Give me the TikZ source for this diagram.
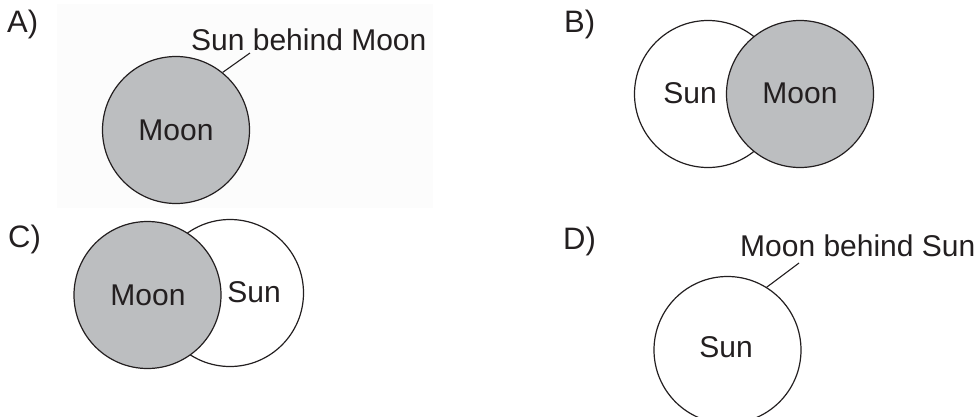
\documentclass[tikz,border=0pt]{standalone}
\usepackage{fontspec}
\setmainfont{Liberation Sans}
\definecolor{ink}{HTML}{231F20}
\definecolor{moongray}{HTML}{BCBEC0}
\definecolor{paper}{HTML}{FCFCFC}
\begin{document}
\begin{tikzpicture}[x=1pt,y=-1pt,
  every node/.style={text=ink,font=\fontsize{30}{35}\selectfont},
  body/.style={circle,draw=ink,line width=1.2pt,minimum size=147pt,inner sep=0pt},
  sunbody/.style={body,fill=white},
  moonbody/.style={body,fill=moongray},
  word/.style={inner sep=0pt},
  tag/.style={inner sep=0pt,anchor=base west},
  panel/.style={tag,font=\fontsize{31}{36}\selectfont},
  leader/.style={draw=ink,line width=1.1pt}]
\useasboundingbox (0,0) rectangle (977,416);
\fill[paper] (57,4) rectangle (433,208);

% A) Sun hidden behind the Moon
\node[panel] (la) at (7,32) {A)};
\node[moonbody] (moonA) at (176,130) {};
\node[word] at (176,130) {Moon};
\node[tag] (calloutA) at (191,50) {Sun behind Moon};
\coordinate (endA) at (250,53);
\draw[leader] (moonA.51) -- (endA);

% B) Moon covering the right side of the Sun
\node[panel] (lb) at (564,32) {B)};
\node[sunbody] (sunB) at (708,94) {};
\node[moonbody] (moonB) at (800,94) {};
\node[word] at (690,93) {Sun};
\node[word] at (800,93) {Moon};

% C) Moon covering the left side of the Sun
\node[panel] (lc) at (8,247) {C)};
\node[sunbody] (sunC) at (230,293) {};
\node[moonbody] (moonC) at (147.5,295) {};
\node[word] at (148,295) {Moon};
\node[word] at (254,292) {Sun};

% D) Moon hidden behind the Sun
\node[panel] (ld) at (563,249) {D)};
\node[sunbody] (sunD) at (727.5,350) {};
\node[word] at (726,347) {Sun};
\node[tag] (calloutD) at (740,256) {Moon behind Sun};
\coordinate (endD) at (799,263);
\draw[leader] (sunD.58) -- (endD);
\end{tikzpicture}
\end{document}
